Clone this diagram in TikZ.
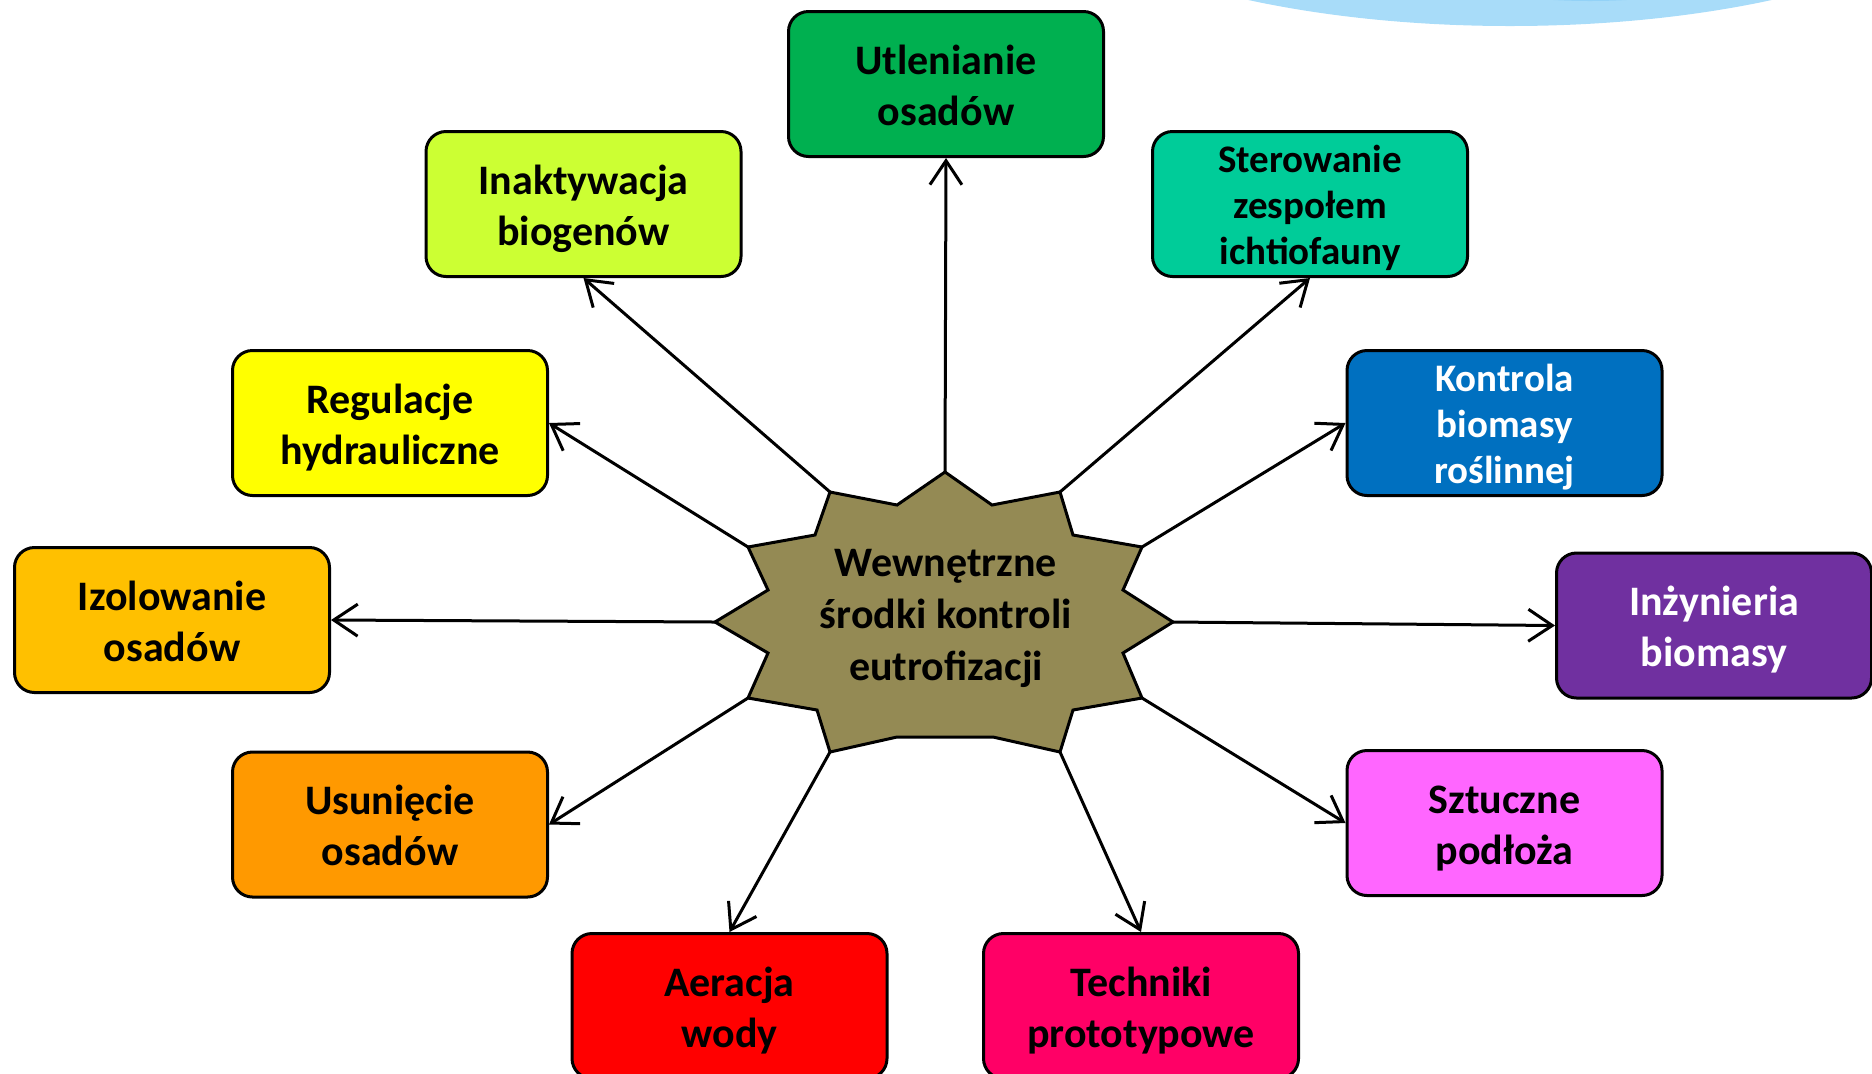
\documentclass[tikz,border=0pt]{standalone}
\usepackage{fontspec}
\setmainfont{Carlito}
\usetikzlibrary{arrows.meta}
\definecolor{cUtl}{HTML}{00B050}
\definecolor{cInak}{HTML}{CCFF33}
\definecolor{cSter}{HTML}{00CC99}
\definecolor{cReg}{HTML}{FFFF00}
\definecolor{cKon}{HTML}{0070C0}
\definecolor{cIzo}{HTML}{FFC000}
\definecolor{cInz}{HTML}{7030A0}
\definecolor{cUsu}{HTML}{FF9900}
\definecolor{cSzt}{HTML}{FF66FF}
\definecolor{cAer}{HTML}{FF0000}
\definecolor{cTec}{HTML}{FF0066}
\definecolor{cStar}{HTML}{948A54}
\definecolor{cSky}{HTML}{A8DCF9}
\definecolor{cSkyDark}{HTML}{93D2F7}
\newcommand\boxstrut{\rule[-0.24em]{0pt}{1.17em}}
\newcommand\ft{\rule{0pt}{0.98em}}
\begin{document}
\begin{tikzpicture}[x=0.5pt,y=-0.5pt,
  box/.style={draw=black, line width=1.5pt, rounded corners=10pt,
    minimum width=157.5pt, minimum height=72.5pt, align=center, inner sep=0pt,
    font=\fontsize{21}{25.5}\selectfont\bfseries,
    execute at end node={\boxstrut}},
  boxthree/.style={box, font=\fontsize{19.5}{23}\selectfont\bfseries},
  arr/.style={line width=1.5pt, -{Straight Barb[length=12pt,width=16pt,line width=1.5pt]}}]
\useasboundingbox (0,0) rectangle (1872,1073);
\clip (0,0) rectangle (1872,1073);
% sky decoration top right
\fill[cSky] (1510,-150) ellipse [x radius=250pt, y radius=88pt];
\fill[cSkyDark] (1590,-175) ellipse [x radius=170pt, y radius=88pt];
% star
\filldraw[fill=cStar, draw=black, line width=1.5pt, line join=miter]
  (945,472) -- (992,505) -- (1060,492) -- (1073,535) -- (1142,547) -- (1123,590)
  -- (1173,622) -- (1123,653) -- (1142,698) -- (1073,710) -- (1060,752)
  -- (993,737) -- (897,737) -- (830,752) -- (817,710) -- (748,698)
  -- (768,653) -- (715,622) -- (768,590) -- (748,547) -- (815,535)
  -- (830,492) -- (897,505) -- cycle;
\node[align=center, font=\fontsize{21}{26}\selectfont\bfseries,
  execute at end node={\boxstrut}] (center) at (946,613)
  {\ft Wewnętrzne\\środki kontroli\\eutrofizacji};
\coordinate (pT) at (945,472);
\coordinate (pUL) at (830,492);
\coordinate (pUR) at (1060,492);
\coordinate (pLU) at (748,547);
\coordinate (pRU) at (1142,547);
\coordinate (pL) at (715,622);
\coordinate (pR) at (1173,622);
\coordinate (pLL) at (748,698);
\coordinate (pRL) at (1142,698);
\coordinate (pBL) at (830,752);
\coordinate (pBR) at (1060,752);
% boxes
\node[box, fill=cUtl] (utl) at (946,84) {\ft Utlenianie\\osadów};
\node[box, fill=cInak] (inak) at (583.5,204) {\ft Inaktywacja\\biogenów};
\node[boxthree, fill=cSter] (ster) at (1310,204) {\ft Sterowanie\\zespołem\\ichtiofauny};
\node[box, fill=cReg] (reg) at (390,423) {\ft Regulacje\\hydrauliczne};
\node[boxthree, fill=cKon, text=white] (kon) at (1504.5,423) {\ft Kontrola\\biomasy\\roślinnej};
\node[box, fill=cIzo] (izo) at (172,620) {\ft Izolowanie\\osadów};
\node[box, fill=cInz, text=white] (inz) at (1714,625.5) {\ft Inżynieria\\biomasy};
\node[box, fill=cUsu] (usu) at (390,824.5) {\ft Usunięcie\\osadów};
\node[box, fill=cSzt] (szt) at (1504.5,823) {\ft Sztuczne\\podłoża};
\node[box, fill=cAer] (aer) at (729.5,1006) {\ft Aeracja\\wody};
\node[box, fill=cTec] (tec) at (1141,1006) {\ft Techniki\\prototypowe};
% connectors
\draw[arr] (pT) -- (utl.south);
\draw[arr] (pUL) -- (inak.south);
\draw[arr] (pUR) -- (ster.south);
\draw[arr] (pLU) -- (reg.east);
\draw[arr] (pRU) -- (kon.west);
\draw[arr] (pL) -- (izo.east);
\draw[arr] (pR) -- (inz.west);
\draw[arr] (pLL) -- (usu.east);
\draw[arr] (pRL) -- (szt.west);
\draw[arr] (pBL) -- (aer.north);
\draw[arr] (pBR) -- (tec.north);
\end{tikzpicture}
\end{document}
